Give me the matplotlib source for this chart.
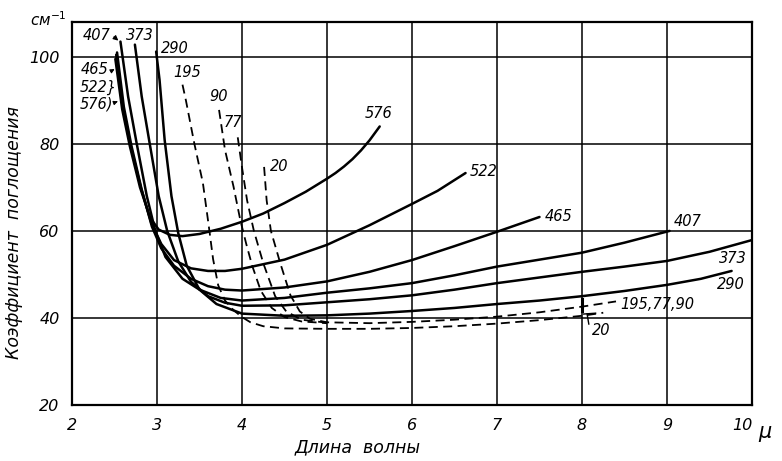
import matplotlib
matplotlib.use("Agg")
import matplotlib.pyplot as plt

# ---------------- data ----------------
x_576 = [2.51, 2.59, 2.68, 2.80, 2.92, 3.02, 3.15, 3.30, 3.50, 3.75, 4.00, 4.25, 4.50, 4.75, 5.00, 5.10, 5.20, 5.30, 5.40, 5.50, 5.62]
y_576 = [99.5, 88.0, 79.5, 70.0, 63.0, 60.3, 59.1, 58.8, 59.3, 60.5, 62.1, 64.0, 66.4, 69.0, 72.0, 73.3, 74.8, 76.5, 78.5, 80.8, 84.0]

x_522 = [2.52, 2.60, 2.69, 2.81, 2.93, 3.05, 3.20, 3.40, 3.60, 3.80, 4.00, 4.50, 5.00, 5.50, 6.00, 6.30, 6.63]
y_522 = [100.5, 88.0, 79.5, 70.0, 62.0, 57.0, 53.3, 51.4, 50.8, 50.8, 51.3, 53.4, 56.8, 61.3, 66.2, 69.2, 73.3]

x_465 = [2.53, 2.61, 2.70, 2.82, 2.94, 3.05, 3.20, 3.40, 3.60, 3.80, 4.00, 4.50, 5.00, 5.50, 6.00, 6.50, 7.00, 7.50]
y_465 = [101.0, 88.5, 79.5, 69.5, 61.0, 56.0, 52.0, 49.0, 47.3, 46.5, 46.3, 47.0, 48.4, 50.6, 53.3, 56.5, 59.8, 63.2]

x_407 = [2.57, 2.66, 2.76, 2.88, 2.98, 3.10, 3.30, 3.50, 3.75, 4.00, 4.50, 5.00, 5.50, 6.00, 6.50, 7.00, 7.50, 8.00, 8.50, 9.03]
y_407 = [103.5, 90.9, 80.2, 68.0, 60.0, 54.0, 49.0, 46.5, 44.6, 44.0, 44.6, 45.8, 46.8, 48.0, 49.8, 51.8, 53.4, 55.0, 57.3, 60.0]

x_373 = [2.74, 2.82, 2.92, 3.02, 3.12, 3.25, 3.40, 3.60, 3.80, 4.00, 4.50, 5.00, 5.50, 6.00, 6.50, 7.00, 7.50, 8.00, 8.50, 9.00, 9.50, 10.00]
y_373 = [102.8, 90.9, 79.4, 68.0, 60.0, 53.0, 48.3, 45.0, 43.5, 42.8, 42.9, 43.6, 44.3, 45.2, 46.5, 48.0, 49.3, 50.6, 51.8, 53.1, 55.2, 57.9]

x_290 = [2.99, 3.03, 3.09, 3.17, 3.25, 3.35, 3.50, 3.70, 4.00, 4.50, 5.00, 5.50, 6.00, 6.50, 7.00, 7.50, 8.00, 8.50, 9.00, 9.40, 9.76]
y_290 = [101.2, 94.7, 80.9, 68.0, 59.5, 52.0, 46.5, 43.2, 41.0, 40.5, 40.6, 41.0, 41.6, 42.3, 43.2, 44.0, 45.0, 46.2, 47.6, 49.0, 50.8]

x_195 = [3.30, 3.34, 3.44, 3.54, 3.61, 3.66, 3.72, 3.80, 3.90, 4.00, 4.10, 4.25, 4.50, 5.00, 5.50, 6.00, 6.50, 7.00, 7.50, 8.00, 8.25]
y_195 = [93.6, 90.0, 80.0, 71.0, 61.0, 53.5, 47.5, 44.0, 41.8, 40.2, 39.0, 38.1, 37.6, 37.5, 37.5, 37.7, 38.1, 38.7, 39.5, 40.5, 41.2]

x_90 = [3.73, 3.80, 3.90, 3.98, 4.05, 4.12, 4.22, 4.35, 4.50, 4.70, 5.00]
y_90 = [87.8, 78.6, 70.2, 62.5, 57.0, 52.0, 46.3, 42.3, 40.2, 39.2, 38.8]

x_77 = [3.95, 4.00, 4.06, 4.14, 4.25, 4.39, 4.52, 4.70, 5.00]
y_77 = [81.5, 74.6, 67.0, 60.0, 52.6, 45.0, 41.5, 39.6, 38.9]

x_20 = [4.26, 4.29, 4.34, 4.45, 4.57, 4.68, 4.80, 5.00, 5.50, 6.00, 6.50, 7.00, 7.50, 8.00, 8.40]
y_20 = [74.7, 67.0, 60.0, 52.6, 45.2, 41.5, 39.8, 39.0, 38.8, 39.1, 39.6, 40.3, 41.3, 42.6, 43.8]

x_ticks = [2, 3, 4, 5, 6, 7, 8, 9, 10]
y_ticks = [20, 40, 60, 80, 100]
x_tick_labels = ["2", "3", "4", "5", "6", "7", "8", "9", "10"]
y_tick_labels = ["20", "40", "60", "80", "100"]

# ---------------- figure ----------------
fig = plt.figure(figsize=(7.82, 4.61), dpi=100)
ax = fig.add_axes([72 / 782, 1 - 405 / 461, 680 / 782, 383 / 461])
ax.set_xlim(2, 10)
ax.set_ylim(20, 108)

ax.set_xticks(x_ticks)
ax.set_xticklabels(x_tick_labels)
ax.set_yticks(y_ticks)
ax.set_yticklabels(y_tick_labels)
ax.tick_params(length=0, pad=9, labelsize=11.5)
for lab in ax.get_xticklabels() + ax.get_yticklabels():
    lab.set_fontstyle("italic")
ax.get_xticklabels()[-1].set_horizontalalignment("right")
ax.grid(True, color="black", linewidth=1.1)
ax.set_axisbelow(True)
for s in ax.spines.values():
    s.set_linewidth(1.6)

solid_kw = dict(color="black", linewidth=1.8, solid_capstyle="round")
dash_kw = dict(color="black", linewidth=1.3, linestyle=(0, (5, 3)))

for xs, ys in [(x_576, y_576), (x_522, y_522), (x_465, y_465),
               (x_407, y_407), (x_373, y_373), (x_290, y_290)]:
    ax.plot(xs, ys, **solid_kw)
for xs, ys in [(x_195, y_195), (x_90, y_90), (x_77, y_77), (x_20, y_20)]:
    ax.plot(xs, ys, **dash_kw)

lab_kw = dict(fontsize=10.5, fontstyle="italic", ha="center", va="center")
# labels at curve starts
ax.text(2.29, 105.0, "407", **lab_kw)
ax.annotate("", xy=(2.57, 103.3), xytext=(2.47, 105.0),
            arrowprops=dict(arrowstyle="-|>", color="black", lw=0.9, mutation_scale=7))
ax.text(2.80, 105.0, "373", **lab_kw)
ax.text(3.21, 101.8, "290", **lab_kw)
ax.text(2.27, 97.0, "465", **lab_kw)
ax.text(2.31, 92.9, "522}", **lab_kw)
ax.text(2.29, 89.2, "576)", **lab_kw)
ax.annotate("", xy=(2.53, 97.5), xytext=(2.44, 96.5),
            arrowprops=dict(arrowstyle="-|>", color="black", lw=0.8, mutation_scale=6))
ax.annotate("", xy=(2.57, 90.0), xytext=(2.49, 89.4),
            arrowprops=dict(arrowstyle="-|>", color="black", lw=0.8, mutation_scale=6))
ax.text(3.36, 96.3, "195", **lab_kw)
ax.text(3.72, 90.8, "90", **lab_kw)
ax.text(3.89, 85.0, "77", **lab_kw)
ax.text(4.44, 74.7, "20", **lab_kw)

# labels at curve ends
ax.text(5.61, 86.9, "576", **lab_kw)
ax.text(6.84, 73.6, "522", **lab_kw)
ax.text(7.72, 63.4, "465", **lab_kw)
ax.text(9.24, 62.1, "407", **lab_kw)
ax.text(9.78, 53.6, "373", **lab_kw)
ax.text(9.75, 47.8, "290", **lab_kw)
ax.text(8.45, 43.2, "195,77,90", fontsize=10.5, fontstyle="italic", ha="left", va="center")
ax.text(8.12, 37.2, "20", fontsize=10.5, fontstyle="italic", ha="left", va="center")
# small brackets at x = 8
ax.plot([8.0, 8.0], [41.6, 44.3], color="black", lw=2.2)
ax.plot([8.02, 8.16], [40.9, 41.1], color="black", lw=1.0)
ax.plot([8.06, 8.08], [40.9, 38.6], color="black", lw=1.0)

# unit labels
ax.text(1.72, 108.6, "см$^{-1}$", fontsize=11, fontstyle="italic",
        ha="center", va="center", clip_on=False)
ax.text(10.15, 13.8, "μ", fontsize=15, fontstyle="italic",
        ha="center", va="center", clip_on=False)

ax.text(0.42, -0.11, "Длина  волны", transform=ax.transAxes, fontsize=12.5,
        fontstyle="italic", ha="center", va="center")
ax.text(-0.085, 0.45, "Коэффициент  поглощения", transform=ax.transAxes, fontsize=12.5,
        fontstyle="italic", ha="center", va="center", rotation=90)

fig.savefig("out.png", dpi=100)
